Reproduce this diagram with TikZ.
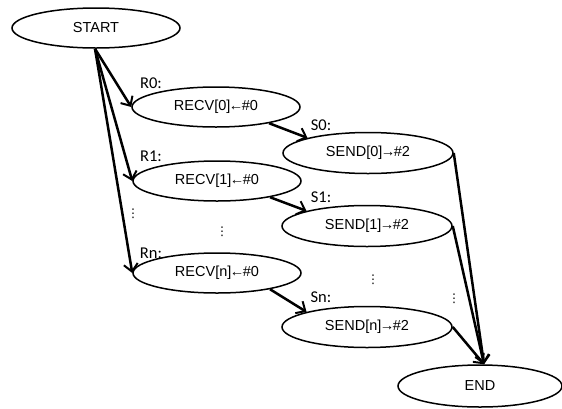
\documentclass[tikz,border=0pt]{standalone}
\usepackage{fontspec}
\setmainfont{Liberation Sans}
\newfontfamily\labelfont{Carlito}
\newfontfamily\dotsfont{DejaVu Sans}
\usetikzlibrary{shapes.geometric,arrows.meta}
% tight arrows inside the state texts
\newcommand{\getarrow}{\kern-1.5pt←\kern-1.5pt}
\newcommand{\putarrow}{\kern-1.5pt→\kern-1.5pt}
\begin{document}
\begin{tikzpicture}[x=1pt,y=-1pt,
  state/.style={ellipse,draw,line width=1.5pt,inner sep=0pt,
    minimum width=168pt,minimum height=40pt,font=\fontsize{14.5}{16}\selectfont},
  flow/.style={line width=2.5pt,-{Straight Barb[length=7.5pt,width=14pt,line width=2pt]}},
  tag/.style={font=\labelfont\fontsize{16.5}{18}\selectfont,inner sep=0pt},
  vdots/.style={font=\dotsfont\fontsize{12}{14}\selectfont,inner sep=0pt}]
\useasboundingbox (0,0) rectangle (562,408);

% states
\node[state] (start) at (96,28) {START};
\node[state] (recv0) at (216,107) {RECV[0]\getarrow\#0};
\node[state] (recv1) at (217,181) {RECV[1]\getarrow\#0};
\node[state] (recvn) at (217,273) {RECV[n]\getarrow\#0};
\node[state,minimum width=170pt,minimum height=41pt] (send0) at (368,153) {SEND[0]\putarrow\#2};
\node[state,minimum width=170pt,minimum height=41pt] (send1) at (367,226) {SEND[1]\putarrow\#2};
\node[state,minimum width=170pt,minimum height=41pt] (sendn) at (367,327) {SEND[n]\putarrow\#2};
\node[state,minimum width=164pt,minimum height=42pt] (end) at (480,386) {END};

% labels
\node[tag] (lr0) at (151,83) {R0:};
\node[tag] (lr1) at (151,156) {R1:};
\node[tag] (lrn) at (151,253) {Rn:};
\node[tag] (ls0) at (321,125) {S0:};
\node[tag] (ls1) at (321,197.5) {S1:};
\node[tag] (lsn) at (321,297) {Sn:};

% elided rows
\node[vdots] (d1) at (133,213.5) {⋮};
\node[vdots] (d2) at (222,231.5) {⋮};
\node[vdots] (d3) at (373,279.5) {⋮};
\node[vdots] (d4) at (454,298.5) {⋮};

% connectors
\coordinate (sx) at ([xshift=-1pt]start.south);
\coordinate (ex) at ([xshift=4pt]end.north);
\draw[flow] (sx) -- (recv0.west);
\draw[flow] (sx) -- (recv1.west);
\draw[flow] (sx) -- (recvn.west);
\draw[flow] (recv0.-17) -- (send0.166);
\draw[flow] (recv1.-17) -- (send1.166);
\draw[flow] (recvn.-17) -- (sendn.166);
\draw[flow] (send0.east) -- (ex);
\draw[flow] (send1.east) -- (ex);
\draw[flow] (sendn.east) -- (ex);
\end{tikzpicture}
\end{document}
